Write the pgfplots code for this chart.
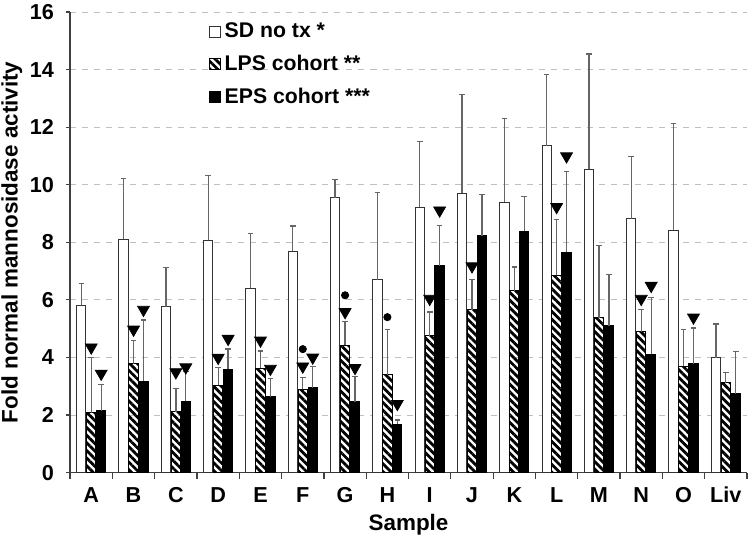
\documentclass[border=0pt]{standalone}
\usepackage{fontspec}
\setmainfont{Liberation Sans}
\usepackage{pgfplots}
\usepackage{pgfplotstable}
\pgfplotsset{compat=1.18}
\usetikzlibrary{patterns.meta}

% x: sample index, sd/lps/eps: mean fold activity, *e: upper error
\pgfplotstableread{
x sd sde lps lpse eps epse
0 5.81 0.77 2.08 1.91 2.15 0.91
1 8.10 2.11 3.78 0.81 3.18 2.12
2 5.77 1.35 2.12 0.80 2.48 1.04
3 8.07 2.24 3.04 0.62 3.59 0.70
4 6.41 1.89 3.63 0.59 2.64 0.62
5 7.69 0.88 2.89 0.41 2.95 0.73
6 9.54 0.65 4.43 0.83 2.47 0.87
7 6.70 3.04 3.40 1.57 1.68 0.15
8 9.22 2.27 4.75 0.83 7.18 1.41
9 9.70 3.44 5.65 1.05 8.22 1.45
10 9.40 2.91 6.31 0.83 8.39 1.21
11 11.36 2.46 6.85 1.95 7.66 2.79
12 10.53 4.01 5.38 2.50 5.10 1.78
13 8.82 2.15 4.90 0.76 4.12 1.97
14 8.42 3.70 3.70 1.26 3.79 1.23
15 3.99 1.17 3.12 0.37 2.74 1.46
}\datatab

\pgfplotsset{
  errstyle/.style={
    error bars/.cd, y dir=plus, y explicit,
    error bar style={black!60, line width=0.65pt},
    error mark options={rotate=90, black!60, mark size=1.4pt, line width=0.65pt}},
}

\begin{document}
\begin{tikzpicture}
\begin{axis}[
  name=ax,
  scale only axis,
  width=338pt, height=230pt,
  xmin=-0.5, xmax=15.5, ymin=0, ymax=16,
  axis x line=bottom, axis y line=left,
  axis line style={-, black!75, line width=0.7pt},
  xtick={0,...,15},
  xticklabels={A,B,C,D,E,F,G,H,I,J,K,L,M,N,O,Liv},
  major x tick style={draw=none},
  minor xtick={-0.5,0.5,...,15.5},
  minor tick length=3pt,
  major tick length=2pt,
  tick align=outside,
  tick style={black!75, line width=0.6pt},
  ytick={0,2,...,16},
  ymajorgrids,
  grid style={dashed, black!25, line width=0.4pt},
  /pgf/number format/assume math mode=true,
  tick label style={font=\fontsize{10.8}{12}\selectfont\bfseries},
  xticklabel style={anchor=base, yshift=-13pt},
  yticklabel style={xshift=-2.5pt},
  label style={font=\fontsize{11.2}{13}\selectfont\bfseries},
  xlabel={Sample},
  ylabel={Fold normal mannosidase activity},
  xlabel style={at={(axis description cs:0.5,0)}, anchor=base, yshift=-29pt},
  ylabel style={at={(axis description cs:-0.086,0.5)}, anchor=center},
  legend style={at={(0.195,0.995)}, anchor=north west, draw=none, fill=none,
    font=\fontsize{10.6}{12}\selectfont\bfseries, row sep=3.3pt,
    /tikz/every even column/.append style={column sep=1pt}},
  legend cell align=left,
  legend image code/.code={\draw[#1] (0pt,-2.8pt) rectangle (5.6pt,2.8pt);},
]
\addplot[ybar, bar width=0.22, bar shift=0, fill=white, draw=black!80, line width=0.5pt, errstyle]
  table[x expr=\thisrow{x}-0.235, y=sd, y error=sde]{\datatab};
\addlegendentry{SD no tx *}
\addplot[ybar, bar width=0.22, bar shift=0, fill=white,
  pattern={Lines[angle=-45, distance=2.7pt, line width=1.4pt]}, draw=black, line width=0.5pt, errstyle]
  table[x=x, y=lps, y error=lpse]{\datatab};
\addlegendentry{LPS cohort **}
\addplot[ybar, bar width=0.22, bar shift=0, fill=black, draw=black, line width=0.5pt, errstyle]
  table[x expr=\thisrow{x}+0.235, y=eps, y error=epse]{\datatab};
\addlegendentry{EPS cohort ***}
% significance markers over LPS bars
\addplot[only marks, forget plot, mark=triangle*, mark size=3.4pt,
  mark options={rotate=180, fill=black, draw=black}]
  coordinates {(0,4.35) (1,4.97) (2,3.49) (3,3.99) (4,4.59) (5,3.69) (6,5.58)
    (8,6.04) (9,7.17) (11,9.23) (13,6.04)};
% significance markers over EPS bars
\addplot[only marks, forget plot, mark=triangle*, mark size=3.4pt,
  mark options={rotate=180, fill=black, draw=black}]
  coordinates {(0.235,3.44) (1.235,5.66) (2.235,3.66) (3.235,4.65) (4.235,3.61)
    (5.235,4.00) (6.235,3.64) (7.235,2.39) (8.235,9.11) (11.235,10.99)
    (13.235,6.49) (14.235,5.39)};
% dots over LPS bars
\addplot[only marks, forget plot, mark=*, mark size=1.8pt,
  mark options={fill=black, draw=black}]
  coordinates {(5,4.29) (6,6.16) (7,5.40)};
\end{axis}
\pgfresetboundingbox
\path ([shift={(-35pt,-33.5pt)}]ax.south west) rectangle ([shift={(1.5pt,6pt)}]ax.north east);
\end{tikzpicture}
\end{document}
